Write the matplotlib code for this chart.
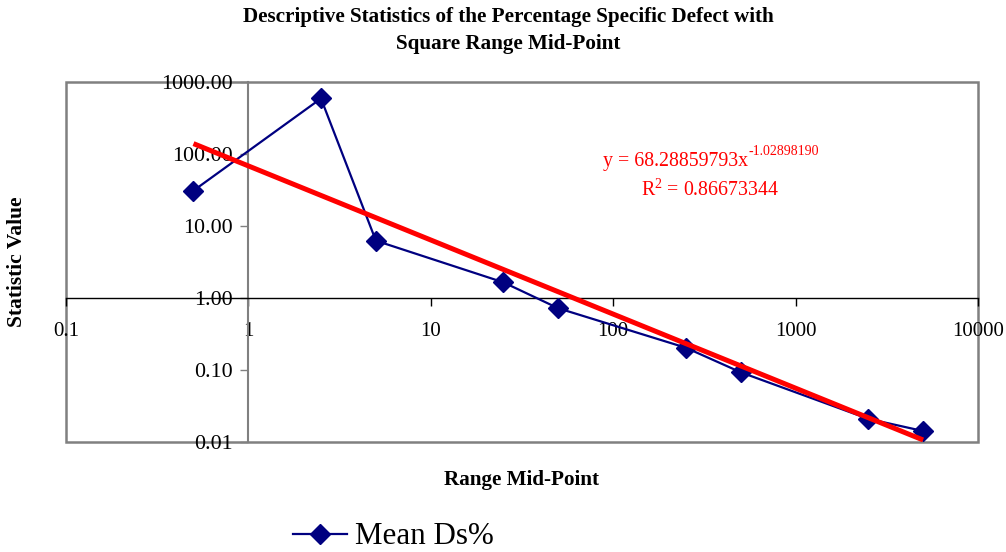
import matplotlib
matplotlib.use("Agg")
import matplotlib.pyplot as plt
from matplotlib.patches import Rectangle
import numpy as np

plt.rcParams['font.family'] = ['Liberation Serif', 'DejaVu Serif']
plt.rcParams['mathtext.fontset'] = 'custom'
plt.rcParams['mathtext.rm'] = 'Liberation Serif'
plt.rcParams['mathtext.it'] = 'Liberation Serif:italic'

# ---- data ----
mid_points = [0.5, 2.5, 5, 25, 50, 250, 500, 2500, 5000]
mean_ds = [31, 590, 6.25, 1.65, 0.72, 0.204, 0.093, 0.021, 0.0142]
trend_coef = 68.28859793
trend_exp = -1.02898190
r_squared = 0.86673344
x_ticks = [0.1, 1, 10, 100, 1000, 10000]
x_tick_labels = ['0.1', '1', '10', '100', '1000', '10000']
y_ticks = [0.01, 0.1, 1, 10, 100, 1000]
y_tick_labels = ['0.01', '0.10', '1.00', '10.00', '100.00', '1000.00']

W, H = 1006, 552
fig = plt.figure(figsize=(W / 100, H / 100), dpi=100)
ax = fig.add_axes([66 / W, 1 - 442 / H, (978 - 66) / W, (442 - 82) / H])
ax.set_xscale('log')
ax.set_yscale('log')
ax.set_xlim(0.1, 10000)
ax.set_ylim(0.01, 1000)

# series
ax.plot(mid_points, mean_ds, color='#000080', lw=1.6, marker='D', ms=10,
        markerfacecolor='#000080', markeredgecolor='#000080', zorder=3,
        label='Mean Ds%')
# power trendline
xt = np.logspace(np.log10(mid_points[0]), np.log10(mid_points[-1]), 200)
ax.plot(xt, trend_coef * xt ** trend_exp, color='#FF0000', lw=3.6,
        solid_capstyle='butt', zorder=4)

# axes crossing at 1
for s in ['top', 'right']:
    ax.spines[s].set_visible(False)
ax.spines['left'].set_position(('data', 1))
ax.spines['bottom'].set_position(('data', 1))
ax.spines['left'].set_color('#808080')
ax.spines['left'].set_linewidth(1.5)
ax.spines['bottom'].set_color('#000000')
ax.spines['bottom'].set_linewidth(1.0)
ax.add_patch(Rectangle((0, 0), 1, 1, transform=ax.transAxes, fill=False,
                       edgecolor='#808080', lw=1.8, clip_on=False, zorder=1))

ax.set_xticks(x_ticks)
ax.set_xticklabels(x_tick_labels)
ax.set_yticks(y_ticks)
ax.set_yticklabels(y_tick_labels)
ax.minorticks_off()
ax.tick_params(axis='x', direction='out', length=5.5, width=1, color='black',
               labelsize=15, pad=12)
ax.tick_params(axis='y', direction='out', length=5.5, width=1, color='#808080',
               labelsize=15.8, pad=6, labelcolor='black')

# equation text
eq_split = 748 / W
fig.text(eq_split, 1 - 166 / H, 'y = %.8fx' % trend_coef,
         color='#FF0000', fontsize=14.3, ha='right', va='baseline')
fig.text(eq_split + 1 / W, 1 - 155 / H, '%.8f' % trend_exp,
         color='#FF0000', fontsize=10, ha='left', va='baseline')
fig.text(710 / W, 1 - 190 / H,
         'R$^{\\mathregular{2}}$ = %.8f' % r_squared,
         color='#FF0000', fontsize=14.3, ha='center', va='center')

# titles and labels
fig.text(508 / W, 1 - 17 / H,
         'Descriptive Statistics of the Percentage Specific Defect with',
         fontsize=15.2, fontweight='bold', ha='center', va='center')
fig.text(508 / W, 1 - 44 / H, 'Square Range Mid-Point',
         fontsize=15.2, fontweight='bold', ha='center', va='center')
fig.text(17 / W, 1 - 262 / H, 'Statistic Value', rotation=90,
         fontsize=15.5, fontweight='bold', ha='center', va='center')
fig.text(522 / W, 1 - 480 / H, 'Range Mid-Point',
         fontsize=15.2, fontweight='bold', ha='center', va='center')

# legend
h, l = ax.get_legend_handles_labels()
fig.legend(h, l, loc='center left', bbox_to_anchor=(293 / W, 1 - 537 / H),
           frameon=False, fontsize=22.3, handlelength=1.75,
           handletextpad=0.25, borderpad=0, borderaxespad=0)

fig.savefig('out.png', dpi=100)
